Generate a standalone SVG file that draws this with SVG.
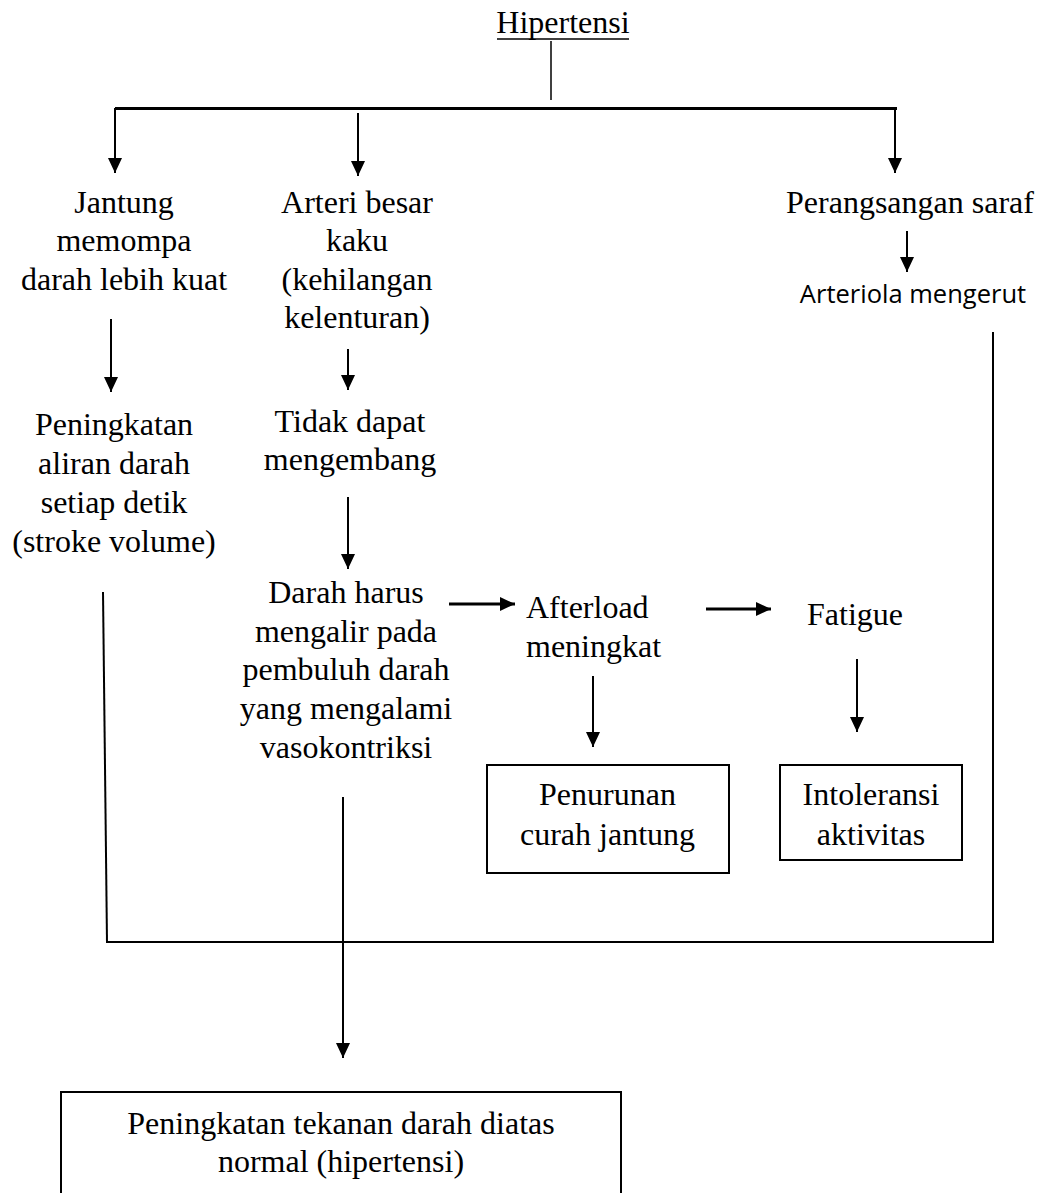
<svg xmlns="http://www.w3.org/2000/svg" width="1046" height="1193" viewBox="0 0 1046 1193">
<defs>
<style>
.t{font-family:"Liberation Serif","Times New Roman",serif;font-size:32px;fill:#000;text-anchor:middle}
.s{font-family:"Open Sans","Liberation Sans",sans-serif;font-size:25.5px;fill:#000;text-anchor:middle}
.ln{stroke:#000;stroke-width:2;fill:none}
.thin{stroke:#000;stroke-width:1.5;fill:none}
.hz{stroke:#000;stroke-width:3;fill:none}
.box{stroke:#000;stroke-width:2;fill:#fff}
</style>
<marker id="ah" viewBox="0 0 15 14" refX="15" refY="7" markerWidth="15" markerHeight="14" markerUnits="userSpaceOnUse" orient="auto">
<path d="M0,0 L15,7 L0,14 z" fill="#000"/>
</marker>
</defs>
<rect width="1046" height="1193" fill="#fff"/>

<g id="connectors">
<line class="thin" x1="551" y1="41" x2="551" y2="100"/>
<line class="hz" x1="115" y1="108.5" x2="897" y2="108.5"/>
<line class="ln" x1="115" y1="108" x2="115" y2="173" marker-end="url(#ah)"/>
<line class="ln" x1="358" y1="113" x2="358" y2="176" marker-end="url(#ah)"/>
<line class="ln" x1="895" y1="108" x2="895" y2="173" marker-end="url(#ah)"/>
<line class="ln" x1="907" y1="231" x2="907" y2="272" marker-end="url(#ah)"/>
<line class="ln" x1="111" y1="319" x2="111" y2="392" marker-end="url(#ah)"/>
<line class="ln" x1="348" y1="349" x2="348" y2="390" marker-end="url(#ah)"/>
<line class="ln" x1="348" y1="497" x2="348" y2="569" marker-end="url(#ah)"/>
<line class="hz" x1="449" y1="604" x2="515" y2="604" marker-end="url(#ah)"/>
<line class="hz" x1="706" y1="609" x2="771" y2="609" marker-end="url(#ah)"/>
<line class="ln" x1="593" y1="676" x2="593" y2="747" marker-end="url(#ah)"/>
<line class="ln" x1="857" y1="659" x2="857" y2="732" marker-end="url(#ah)"/>
<line class="ln" x1="103" y1="592" x2="107" y2="942"/>
<line class="ln" x1="993" y1="332" x2="993" y2="942"/>
<line class="ln" x1="106" y1="942" x2="994" y2="942"/>
<line class="ln" x1="343" y1="797" x2="343" y2="1058" marker-end="url(#ah)"/>
</g>

<g id="n-hipertensi">
<text class="t" x="563" y="33">Hipertensi</text>
<line class="thin" x1="497" y1="39" x2="629" y2="39"/>
</g>

<g id="n-jantung">
<text class="t" x="124" y="213">Jantung</text>
<text class="t" x="124" y="251">memompa</text>
<text class="t" x="124" y="290">darah lebih kuat</text>
</g>

<g id="n-arteri">
<text class="t" x="357" y="213">Arteri besar</text>
<text class="t" x="357" y="251">kaku</text>
<text class="t" x="357" y="290">(kehilangan</text>
<text class="t" x="357" y="328">kelenturan)</text>
</g>

<g id="n-perangsangan">
<text class="t" x="910" y="213">Perangsangan saraf</text>
</g>

<g id="n-arteriola">
<text class="s" x="913" y="303">Arteriola mengerut</text>
</g>

<g id="n-peningkatan-aliran">
<text class="t" x="114" y="435">Peningkatan</text>
<text class="t" x="114" y="474">aliran darah</text>
<text class="t" x="114" y="513">setiap detik</text>
<text class="t" x="114" y="552">(stroke volume)</text>
</g>

<g id="n-tidak-dapat">
<text class="t" x="350" y="432">Tidak dapat</text>
<text class="t" x="350" y="470">mengembang</text>
</g>

<g id="n-darah-harus">
<text class="t" x="346" y="603">Darah harus</text>
<text class="t" x="346" y="642">mengalir pada</text>
<text class="t" x="346" y="680">pembuluh darah</text>
<text class="t" x="346" y="719">yang mengalami</text>
<text class="t" x="346" y="758">vasokontriksi</text>
</g>

<g id="n-afterload">
<text class="t" x="526" y="618" style="text-anchor:start">Afterload</text>
<text class="t" x="526" y="657" style="text-anchor:start">meningkat</text>
</g>

<g id="n-fatigue">
<text class="t" x="855" y="625">Fatigue</text>
</g>

<g id="n-penurunan">
<rect class="box" x="487" y="765" width="242" height="108"/>
<text class="t" x="607.5" y="805">Penurunan</text>
<text class="t" x="607.5" y="845">curah jantung</text>
</g>

<g id="n-intoleransi">
<rect class="box" x="780" y="765" width="182" height="95"/>
<text class="t" x="871" y="805">Intoleransi</text>
<text class="t" x="871" y="845">aktivitas</text>
</g>

<g id="n-hasil">
<rect class="box" x="61" y="1092" width="560" height="110"/>
<text class="t" x="341" y="1134">Peningkatan tekanan darah diatas</text>
<text class="t" x="341" y="1172">normal (hipertensi)</text>
</g>
</svg>
